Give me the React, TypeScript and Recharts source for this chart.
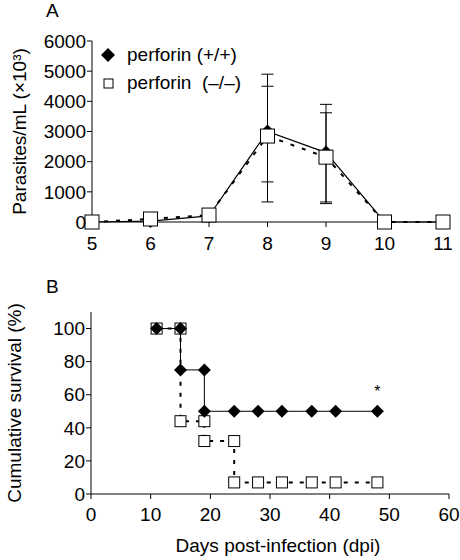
import { LineChart, Line, XAxis, YAxis, ErrorBar, ReferenceDot } from "recharts"

const FONT = "'Liberation Sans', Arial, Helvetica, sans-serif"

// Panel A: parasitemia
const parasiteDays = [5, 6, 7, 8, 9, 10, 11]
const wildParasites = [0, 30, 200, 3000, 2300, 0, 0]
const knockoutParasites = [0, 100, 230, 2850, 2150, 0, 0]
const wildErrors: ([number, number] | null)[] = [null, null, null, [2335, 1900], [1690, 1600], null, null]
const knockoutErrors: ([number, number] | null)[] = [null, null, null, [1520, 1650], [1485, 1470], null, null]
const parasiteTicks = [0, 1000, 2000, 3000, 4000, 5000, 6000]

// Panel B: survival
const wildSurvivalDays = [11, 15, 15, 19, 19, 24, 28, 32, 37, 41, 48]
const wildSurvival = [100, 100, 75, 75, 50, 50, 50, 50, 50, 50, 50]
const knockoutSurvivalDays = [11, 15, 15, 19, 19, 24, 24, 28, 32, 37, 41, 48]
const knockoutSurvival = [100, 100, 44, 44, 32, 32, 7, 7, 7, 7, 7, 7]
const survivalTicks = [0, 20, 40, 60, 80, 100]
const dayTicks = [0, 10, 20, 30, 40, 50, 60]
const significance = { day: 48, value: 62, mark: "*" }

const seriesNames = ["perforin (+/+)", "perforin  (\u2013/\u2013)"]

const wildDataA = parasiteDays.map((d, i) => ({ day: d, value: wildParasites[i], err: wildErrors[i] }))
const koDataA = parasiteDays.map((d, i) => ({ day: d, value: knockoutParasites[i], err: knockoutErrors[i] }))
const wildDataB = wildSurvivalDays.map((d, i) => ({ day: d, value: wildSurvival[i] }))
const koDataB = knockoutSurvivalDays.map((d, i) => ({ day: d, value: knockoutSurvival[i] }))

const diamond = (s: number) => (props: any) => {
  const { cx, cy, index } = props
  if (cx == null || cy == null) return <g key={`d-${index}`} />
  return (
    <path
      key={`d-${index}`}
      d={`M${cx},${cy - s} L${cx + s},${cy} L${cx},${cy + s} L${cx - s},${cy} Z`}
      fill="#000"
    />
  )
}

const square = (s: number) => (props: any) => {
  const { cx, cy, index } = props
  if (cx == null || cy == null) return <g key={`s-${index}`} />
  return <rect key={`s-${index}`} x={cx - s} y={cy - s} width={s * 2} height={s * 2} fill="#fff" stroke="#000" strokeWidth={1} />
}

const tickStyle = { fill: "#000", fontSize: 19, fontFamily: FONT }

function LegendBox() {
  return (
    <div style={{ fontFamily: FONT, fontSize: 19, color: "#000", lineHeight: "28px" }}>
      <div style={{ display: "flex", alignItems: "center" }}>
        <svg width={14} height={14} style={{ marginRight: 12 }}>
          <path d="M7,0 L14,7 L7,14 L0,7 Z" fill="#000" />
        </svg>
        {seriesNames[0]}
      </div>
      <div style={{ display: "flex", alignItems: "center", whiteSpace: "pre" }}>
        <svg width={14} height={14} style={{ marginRight: 12 }}>
          <rect x={3} y={3} width={9} height={9} fill="#fff" stroke="#000" />
        </svg>
        {seriesNames[1]}
      </div>
    </div>
  )
}

export default function App() {
  return (
    <div style={{ position: "fixed", left: 0, top: 0, width: 460, height: 560, background: "#fff" }}>
      <div style={{ position: "absolute", left: 0, top: 0 }}>
        <LineChart width={460} height={260} margin={{ top: 41, right: 17, bottom: 4, left: 0 }}>
          <XAxis
            dataKey="day"
            type="number"
            domain={[5, 11]}
            ticks={parasiteDays}
            allowDuplicatedCategory={false}
            stroke="#000"
            tick={tickStyle}
            tickSize={5}
            tickMargin={10}
            height={34}
          />
          <YAxis
            type="number"
            domain={[0, 6000]}
            ticks={parasiteTicks}
            stroke="#000"
            tick={tickStyle}
            tickSize={5}
            tickMargin={1}
            width={92}
            label={{
              value: "Parasites/mL (\u00d710\u00b3)",
              angle: -90,
              position: "center",
              dx: -27,
              style: { fill: "#000", fontSize: 19, fontFamily: FONT, textAnchor: "middle" },
            }}
          />
          <Line
            data={wildDataA}
            dataKey="value"
            stroke="#000"
            strokeWidth={1.2}
            dot={diamond(7)}
            activeDot={false}
            isAnimationActive={false}
          >
            <ErrorBar dataKey="err" direction="y" width={6} stroke="#000" strokeWidth={1} />
          </Line>
          <Line
            data={koDataA}
            dataKey="value"
            stroke="#000"
            strokeWidth={2}
            strokeDasharray="4 8"
            dot={square(7)}
            activeDot={false}
            isAnimationActive={false}
          >
            <ErrorBar dataKey="err" direction="y" width={6} stroke="#000" strokeWidth={1} />
          </Line>
        </LineChart>
      </div>

      <div style={{ position: "absolute", left: 101, top: 41 }}>
        <LegendBox />
      </div>

      <div style={{ position: "absolute", left: 0, top: 260 }}>
        <LineChart width={460} height={300} margin={{ top: 52, right: 11, bottom: 6, left: 0 }}>
          <XAxis
            dataKey="day"
            type="number"
            domain={[0, 60]}
            ticks={dayTicks}
            allowDuplicatedCategory={true}
            stroke="#000"
            tick={tickStyle}
            tickSize={5}
            tickMargin={9}
            height={60}
            label={{
              value: "Days post-infection (dpi)",
              position: "insideBottom",
              offset: 2,
              dx: 8,
              style: { fill: "#000", fontSize: 19, fontFamily: FONT },
            }}
          />
          <YAxis
            type="number"
            domain={[0, 110]}
            ticks={survivalTicks}
            stroke="#000"
            tick={tickStyle}
            tickSize={5}
            tickMargin={1}
            width={91}
            label={{
              value: "Cumulative survival (%)",
              angle: -90,
              position: "center",
              dx: -31,
              style: { fill: "#000", fontSize: 19, fontFamily: FONT, textAnchor: "middle" },
            }}
          />
          <Line
            data={koDataB}
            dataKey="value"
            stroke="#000"
            strokeWidth={2}
            strokeDasharray="4 7"
            dot={square(5.5)}
            activeDot={false}
            isAnimationActive={false}
          />
          <Line
            data={wildDataB}
            dataKey="value"
            stroke="#000"
            strokeWidth={1}
            dot={diamond(6.5)}
            activeDot={false}
            isAnimationActive={false}
          />
          <ReferenceDot
            x={significance.day}
            y={significance.value}
            r={0}
            label={{ value: significance.mark, position: "center", style: { fill: "#000", fontSize: 16, fontFamily: FONT } }}
          />
        </LineChart>
      </div>

      <div style={{ position: "absolute", left: 46, top: 0, fontFamily: FONT, fontSize: 19, lineHeight: "22px" }}>A</div>
      <div style={{ position: "absolute", left: 46, top: 276, fontFamily: FONT, fontSize: 19, lineHeight: "22px" }}>B</div>
    </div>
  )
}
